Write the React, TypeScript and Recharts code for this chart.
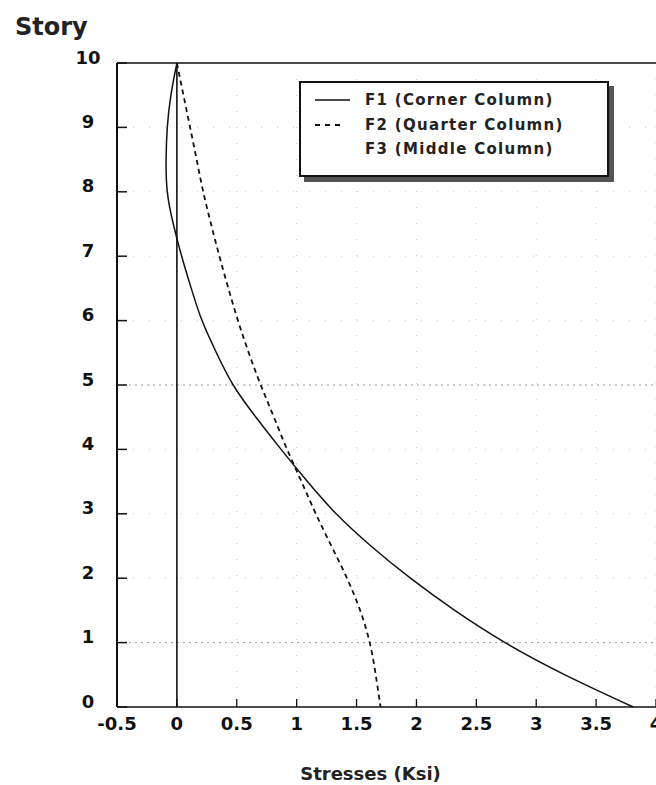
import React from 'react';
import { LineChart, Line, XAxis, YAxis, ReferenceLine, CartesianGrid, Label } from 'recharts';

// Story levels (y) shared by F1 and F2
const storyLevels = [10, 9.5, 9, 8.5, 8, 7.5, 7, 6.5, 6, 5.5, 5, 4.5, 4, 3.5, 3, 2.5, 2, 1.5, 1, 0.5, 0];
// F1 (Corner Column) stresses, Ksi
const f1Stress = [0, -0.05, -0.08, -0.09, -0.08, -0.03, 0.04, 0.12, 0.21, 0.33, 0.47, 0.66, 0.87, 1.09, 1.33, 1.62, 1.95, 2.32, 2.74, 3.24, 3.81];
// F2 (Quarter Column) stresses, Ksi
const f2Stress = [0, 0.055, 0.11, 0.165, 0.22, 0.285, 0.355, 0.43, 0.51, 0.6, 0.7, 0.81, 0.92, 1.04, 1.16, 1.29, 1.42, 1.53, 1.61, 1.66, 1.7];
// F3 (Middle Column)
const f3Stories = [10, 0];
const f3Stress = [0, 0];

const xTicks = [-0.5, 0, 0.5, 1, 1.5, 2, 2.5, 3, 3.5, 4];
const yTicks = [0, 1, 2, 3, 4, 5, 6, 7, 8, 9, 10];
const dottedGridStories = [5, 1];

const legendLabels = ['F1 (Corner Column)', 'F2 (Quarter Column)', 'F3 (Middle Column)'];

const FONT = '"DejaVu Sans", sans-serif';

const XTick = (props: any) => (
  <text x={props.x} y={props.y} textAnchor="middle" fontSize={18} fontWeight="bold" fill="#111" fontFamily={FONT}>
    {String(props.payload.value)}
  </text>
);

const YTick = (props: any) => (
  <text x={props.x} y={props.y + 0.5} textAnchor="middle" fontSize={18} fontWeight="bold" fill="#111" fontFamily={FONT}>
    {String(props.payload.value)}
  </text>
);

const StoryLabel = (props: any) => {
  const vb = props.viewBox || { x: 0, y: 63 };
  return (
    <text x={vb.x + 15} y={vb.y - 28} fontSize={24} fontWeight="bold" fill="#222" fontFamily={FONT}>
      Story
    </text>
  );
};

export default function App() {
  const f1 = storyLevels.map((st, i) => ({ s: f1Stress[i], story: st }));
  const f2 = storyLevels.map((st, i) => ({ s: f2Stress[i], story: st }));
  const f3 = f3Stories.map((st, i) => ({ s: f3Stress[i], story: st }));

  const boxTop = 81;
  const entryCenters = [100, 124.5, 149];

  return (
    <div style={{ position: 'absolute', left: 0, top: 0, width: 656, height: 785, background: '#fff', overflow: 'hidden', fontFamily: FONT }}>
      <LineChart width={656} height={785} margin={{ top: 63, right: 0, bottom: 0, left: 0 }}>
        <CartesianGrid stroke="#c8c8c8" strokeDasharray="1 15" />
        <XAxis
          type="number"
          dataKey="s"
          domain={[-0.5, 4]}
          ticks={xTicks}
          interval={0}
          allowDataOverflow
          height={78}
          tickSize={-8}
          tickMargin={31}
          tick={XTick}
          axisLine={{ stroke: '#111', strokeWidth: 1.6 }}
          tickLine={{ stroke: '#111', strokeWidth: 1.3 }}
        >
          <Label
            value="Stresses (Ksi)"
            position="insideBottom"
            offset={5}
            dx={-16}
            style={{ fontSize: 18, fontWeight: 'bold', fill: '#222', fontFamily: FONT }}
          />
        </XAxis>
        <YAxis
          type="number"
          dataKey="story"
          domain={[0, 10]}
          ticks={yTicks}
          interval={0}
          allowDataOverflow
          width={117}
          tickSize={-10}
          tickMargin={39}
          tick={YTick}
          axisLine={{ stroke: '#111', strokeWidth: 2 }}
          tickLine={{ stroke: '#111', strokeWidth: 1.5 }}
        >
          <Label content={StoryLabel} />
        </YAxis>
        <ReferenceLine y={10} stroke="#111" strokeWidth={1.5} />
        {dottedGridStories.map((g) => (
          <ReferenceLine key={g} y={g} stroke="#999" strokeDasharray="2 4" strokeWidth={1} />
        ))}
        <Line data={f3} dataKey="story" type="linear" stroke="#111" strokeWidth={1.6} dot={false} isAnimationActive={false} />
        <Line data={f1} dataKey="story" type="natural" stroke="#111" strokeWidth={1.5} dot={false} isAnimationActive={false} />
        <Line data={f2} dataKey="story" type="natural" stroke="#111" strokeWidth={1.8} strokeDasharray="5 4" dot={false} isAnimationActive={false} />
      </LineChart>

      {/* Legend */}
      <div
        style={{
          position: 'absolute',
          left: 299,
          top: boxTop,
          width: 306,
          height: 92,
          border: '2px solid #111',
          background: '#fff',
          boxShadow: '5px 5px 0 #555',
        }}
      >
        {legendLabels.map((lab, i) => (
          <div key={lab} style={{ position: 'absolute', left: 0, top: entryCenters[i] - boxTop - 2 - 11, height: 22, width: 300 }}>
            <svg width={50} height={22} style={{ position: 'absolute', left: 12, top: 0 }}>
              {i === 0 && <line x1={2} y1={11} x2={37} y2={11} stroke="#111" strokeWidth={1.5} />}
              {i === 1 && <line x1={2} y1={11} x2={29} y2={11} stroke="#111" strokeWidth={1.8} strokeDasharray="5 5" />}
            </svg>
            <span
              style={{
                position: 'absolute',
                left: 64,
                top: 1,
                fontSize: 15,
                fontWeight: 'bold',
                letterSpacing: 1.3,
                color: '#222',
                whiteSpace: 'nowrap',
                fontFamily: FONT,
                lineHeight: '20px',
              }}
            >
              {lab}
            </span>
          </div>
        ))}
      </div>
    </div>
  );
}
